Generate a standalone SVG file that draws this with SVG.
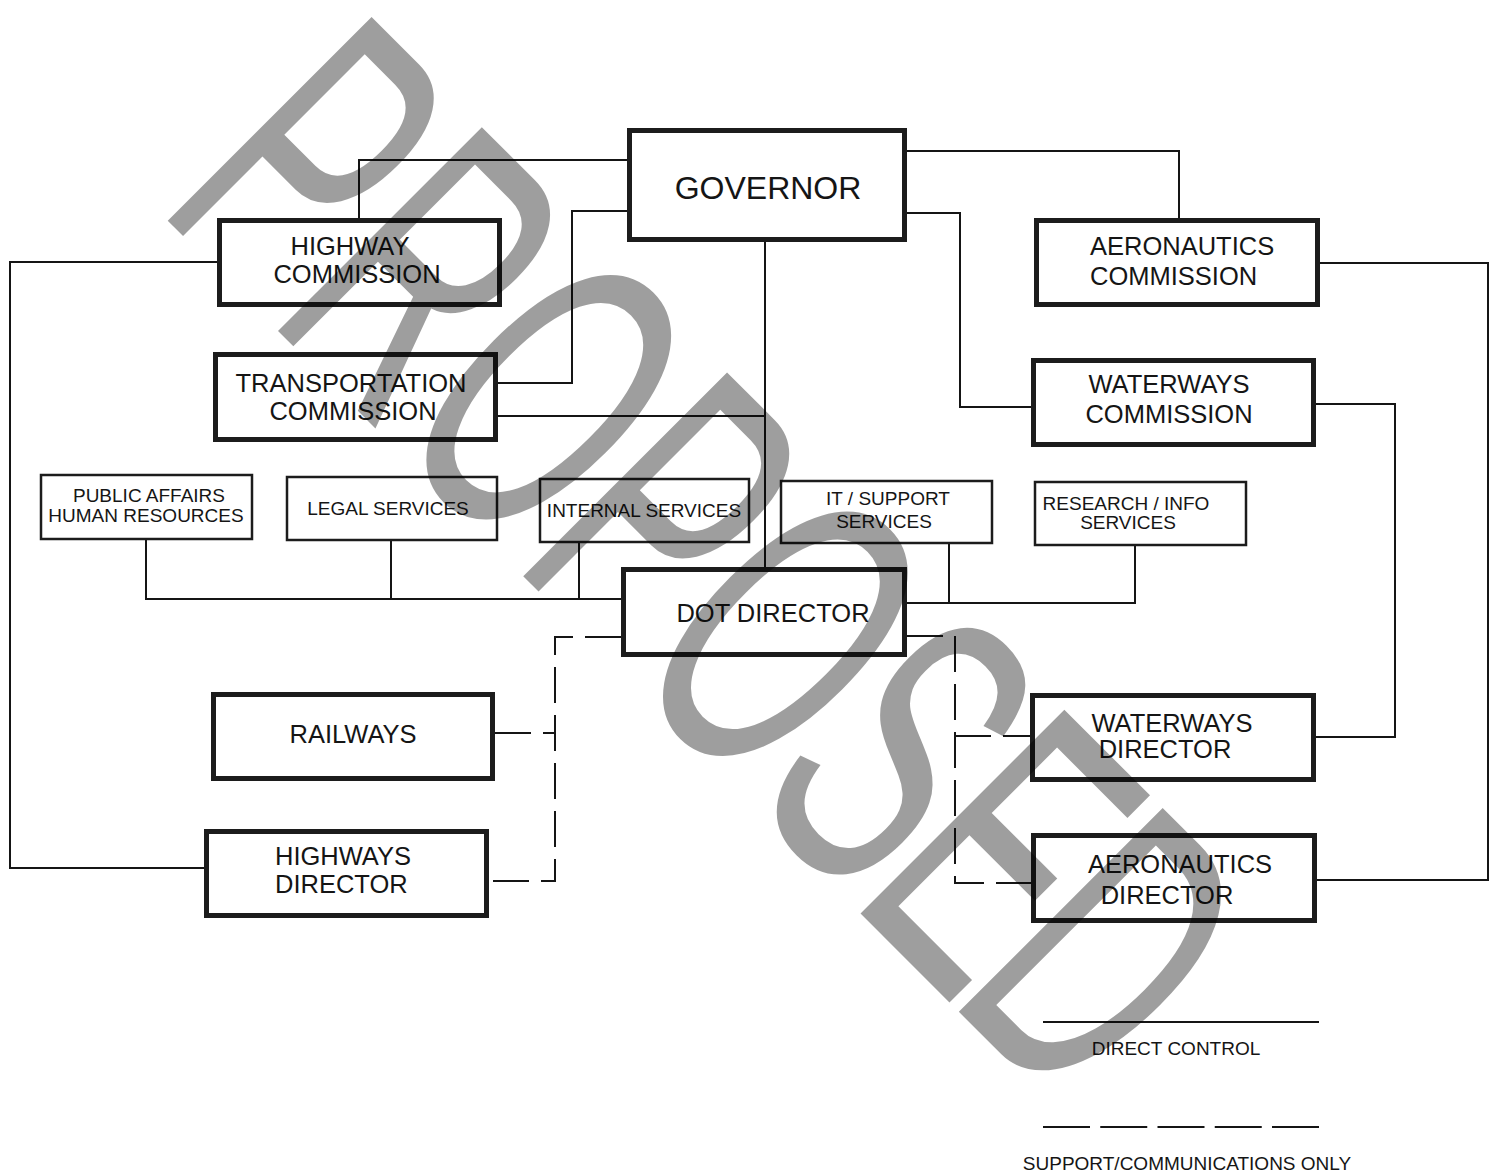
<svg xmlns="http://www.w3.org/2000/svg" width="1490" height="1175" viewBox="0 0 1490 1175">
<defs>
<style>
.bg{fill:#ffffff}
.thick{fill:#ffffff;stroke:#1c1c1c;stroke-width:5}
.thin{fill:#ffffff;stroke:#1c1c1c;stroke-width:2.5}
.c{fill:none;stroke:#151515;stroke-width:2}
.d{fill:none;stroke:#151515;stroke-width:2;stroke-dasharray:36 12}
text{font-family:"Liberation Sans",Arial,sans-serif;fill:#151515}
.L{font-size:25.5px}
.XL{font-size:32px}
.S{font-size:19px}
.m{text-anchor:middle}
.wm{font-family:"Liberation Sans",Arial,sans-serif;font-size:419px;fill:#000000;fill-opacity:0.38}
</style>
</defs>
<rect class="bg" x="0" y="0" width="1490" height="1175"/>
<g id="connectors">
<path class="c" d="M627,160 H359 V218"/>
<path class="c" d="M217,262 H10 V868 H204"/>
<path class="c" d="M627,211 H572 V383 H498"/>
<path class="c" d="M498,416 H765"/>
<path class="c" d="M765,242 V567"/>
<path class="c" d="M907,151 H1179 V218"/>
<path class="c" d="M907,213 H960 V407 H1031"/>
<path class="c" d="M1320,263 H1488 V880 H1317"/>
<path class="c" d="M1316,404 H1395 V737 H1316"/>
<path class="c" d="M146,540 V599 H621"/>
<path class="c" d="M391,541 V599"/>
<path class="c" d="M579,543 V600"/>
<path class="c" d="M907,603 H1135 V546"/>
<path class="c" d="M949,544 V603"/>
<path class="d" d="M621,637 H555 V881 H489"/>
<path class="d" d="M495,733 H555"/>
<path class="d" d="M907,636 H955 V883 H1031"/>
<path class="d" d="M955,736 H1030"/>
</g>
<g id="governor"><rect class="thick" x="629.5" y="130.5" width="275" height="109"/><text class="XL m" x="768" y="199">GOVERNOR</text></g>
<g id="highway-commission"><rect class="thick" x="219.5" y="220.5" width="280" height="84"/><text class="L m" x="350" y="255">HIGHWAY</text><text class="L m" x="357" y="283">COMMISSION</text></g>
<g id="transportation-commission"><rect class="thick" x="215.5" y="354.5" width="280" height="85"/><text class="L m" x="351" y="392">TRANSPORTATION</text><text class="L m" x="353" y="420">COMMISSION</text></g>
<g id="aeronautics-commission"><rect class="thick" x="1036.5" y="220.5" width="281" height="84"/><text class="L" x="1090" y="255">AERONAUTICS</text><text class="L" x="1090" y="285">COMMISSION</text></g>
<g id="waterways-commission"><rect class="thick" x="1033.5" y="360.5" width="280" height="84"/><text class="L m" x="1169" y="393">WATERWAYS</text><text class="L m" x="1169" y="423">COMMISSION</text></g>
<g id="public-affairs"><rect class="thin" x="41" y="475" width="211" height="64"/><text class="S m" x="149" y="502">PUBLIC AFFAIRS</text><text class="S m" x="146" y="522">HUMAN RESOURCES</text></g>
<g id="legal-services"><rect class="thin" x="287" y="477" width="210" height="63"/><text class="S m" x="388" y="515">LEGAL SERVICES</text></g>
<g id="internal-services"><rect class="thin" x="540" y="479" width="209" height="63"/><text class="S m" x="644" y="517">INTERNAL SERVICES</text></g>
<g id="it-support"><rect class="thin" x="781" y="481" width="211" height="62"/><text class="S m" x="888" y="505">IT / SUPPORT</text><text class="S m" x="884" y="528">SERVICES</text></g>
<g id="research-info"><rect class="thin" x="1035" y="482" width="211" height="63"/><text class="S m" x="1126" y="510">RESEARCH / INFO</text><text class="S m" x="1128" y="529">SERVICES</text></g>
<g id="dot-director"><rect class="thick" x="623.5" y="569.5" width="281" height="85"/><text class="L m" x="773" y="622">DOT DIRECTOR</text></g>
<g id="railways"><rect class="thick" x="213.5" y="694.5" width="279" height="84"/><text class="L m" x="353" y="743">RAILWAYS</text></g>
<g id="highways-director"><rect class="thick" x="206.5" y="831.5" width="280" height="84"/><text class="L" x="275" y="865">HIGHWAYS</text><text class="L" x="275" y="893">DIRECTOR</text></g>
<g id="waterways-director"><rect class="thick" x="1032.5" y="695.5" width="281" height="84"/><text class="L m" x="1172" y="732">WATERWAYS</text><text class="L m" x="1165" y="758">DIRECTOR</text></g>
<g id="aeronautics-director"><rect class="thick" x="1033.5" y="835.5" width="281" height="85"/><text class="L m" x="1180" y="873">AERONAUTICS</text><text class="L m" x="1167" y="904">DIRECTOR</text></g>
<g id="legend">
<path class="c" d="M1043,1022 H1319"/>
<text class="S m" x="1176" y="1055">DIRECT CONTROL</text>
<path class="c" d="M1043,1127 H1319" style="stroke-dasharray:47 10.25"/>
<text class="S m" x="1187" y="1170">SUPPORT/COMMUNICATIONS ONLY</text>
</g>
<g id="watermark" transform="translate(167,220) rotate(45) scale(0.554,1)">
<text class="wm" x="-32.5 249 551 875 1155 1473 1736 1987" y="0">PROPOSED</text>
</g>
</svg>
